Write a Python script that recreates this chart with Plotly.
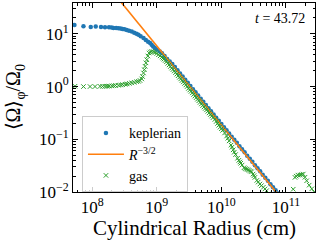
import plotly.graph_objects as go

# ---- data (log10 values) ----
kep_logR = [7.724, 7.864, 7.977, 8.054, 8.136, 8.198, 8.260, 8.300, 8.329, 8.370,
            8.406, 8.440, 8.468, 8.500, 8.535, 8.570, 8.612, 8.650, 8.685, 8.716,
            8.750, 8.794, 8.830, 8.865, 8.896, 8.920, 8.943, 8.970, 9.000, 9.047,
            9.080, 9.120, 9.160, 9.200, 9.240, 9.280, 9.320, 9.360, 9.400, 9.440,
            9.480, 9.520, 9.560, 9.600, 9.640, 9.680, 9.720, 9.760, 9.800, 9.840,
            9.880, 9.920, 9.960, 10.00, 10.04, 10.08, 10.12, 10.16, 10.20, 10.24,
            10.28, 10.32, 10.36, 10.40, 10.44, 10.48, 10.52, 10.56, 10.60, 10.64,
            10.68, 10.72, 10.76, 10.80, 10.84, 10.88]
kep_logW = [1.170, 1.145, 1.132, 1.138, 1.132, 1.126, 1.126, 1.122, 1.113, 1.112,
            1.108, 1.100, 1.094, 1.085, 1.075, 1.060, 1.043, 1.022, 1.000, 0.981,
            0.955, 0.919, 0.885, 0.850, 0.825, 0.795, 0.760, 0.730, 0.700, 0.666,
            0.630, 0.580, 0.525, 0.475, 0.430, 0.372, 0.308, 0.250, 0.192, 0.128,
            0.070, 0.012, -0.052, -0.110, -0.168, -0.232, -0.290, -0.348, -0.412, -0.470,
            -0.528, -0.592, -0.650, -0.708, -0.772, -0.830, -0.888, -0.952, -1.010, -1.068,
            -1.132, -1.190, -1.248, -1.312, -1.370, -1.428, -1.492, -1.550, -1.608, -1.672,
            -1.730, -1.788, -1.852, -1.910, -1.968, -2.030]

fit_logR = [7.70, 11.45]
fit_logW = [2.72, -2.905]

gas_logR = [7.733, 7.864, 7.966, 8.043, 8.121, 8.160, 8.198, 8.230, 8.260, 8.302,
            8.330, 8.360, 8.406, 8.440, 8.470, 8.509, 8.540, 8.575, 8.612, 8.650,
            8.690, 8.716, 8.740, 8.767, 8.780, 8.794, 8.807, 8.819, 8.832, 8.845,
            8.862, 8.881, 8.900, 8.922, 8.950, 8.974, 9.000, 9.026, 9.052, 9.078,
            9.095, 9.110, 9.130, 9.150, 9.170, 9.190, 9.210, 9.230, 9.250, 9.270,
            9.290, 9.310, 9.330, 9.350, 9.370, 9.390, 9.410, 9.430, 9.450, 9.470,
            9.490, 9.510, 9.530, 9.550, 9.570, 9.590, 9.610, 9.630, 9.650, 9.670,
            9.690, 9.710, 9.730, 9.750, 9.770, 9.790, 9.810, 9.830, 9.850, 9.870,
            9.900, 9.920, 9.940, 9.960, 9.980, 10.00, 10.02, 10.05, 10.081, 10.10,
            10.12, 10.15, 10.165, 10.183, 10.20, 10.22, 10.25, 10.27, 10.287, 10.30,
            10.32, 10.35, 10.37, 10.391, 10.41, 10.43, 10.45, 10.468, 10.49, 10.505,
            10.519, 10.55, 10.57, 10.597, 10.62, 10.65, 10.675, 10.701, 10.74,
            11.113, 11.140, 11.160, 11.186, 11.217, 11.240, 11.268, 11.295, 11.321, 11.360,
            11.400, 11.440]
gas_logW = [0.006, 0.000, 0.000, 0.000, 0.004, 0.004, 0.005, 0.007, 0.009, 0.013,
            0.016, 0.020, 0.025, 0.030, 0.037, 0.043, 0.050, 0.060, 0.070, 0.080,
            0.092, 0.100, 0.115, 0.145, 0.190, 0.258, 0.320, 0.383, 0.450, 0.509,
            0.580, 0.636, 0.655, 0.666, 0.660, 0.647, 0.628, 0.604, 0.582, 0.560,
            0.540, 0.520, 0.495, 0.470, 0.440, 0.410, 0.380, 0.350, 0.322, 0.295,
            0.265, 0.235, 0.205, 0.175, 0.145, 0.115, 0.088, 0.060, 0.030, 0.000,
            -0.035, -0.065, -0.092, -0.120, -0.150, -0.180, -0.210, -0.240, -0.270, -0.300,
            -0.330, -0.360, -0.388, -0.415, -0.442, -0.470, -0.500, -0.530, -0.560, -0.590,
            -0.623, -0.662, -0.700, -0.735, -0.770, -0.800, -0.830, -0.880, -0.938, -0.980,
            -1.030, -1.110, -1.150, -1.200, -1.245, -1.290, -1.360, -1.400, -1.430, -1.455,
            -1.490, -1.540, -1.555, -1.566, -1.578, -1.590, -1.605, -1.617, -1.660, -1.690,
            -1.723, -1.780, -1.812, -1.849, -1.880, -1.910, -1.942, -1.975, -2.030,
            -1.947, -1.723, -1.700, -1.680, -1.680, -1.670, -1.660, -1.720, -1.787, -1.870,
            -1.940, -2.000]

x_tick_vals = [1e8, 1e9, 1e10, 1e11]
x_tick_text = ["10<sup>8</sup>", "10<sup>9</sup>", "10<sup>10</sup>", "10<sup>11</sup>"]
y_tick_vals = [1e-2, 1e-1, 1e0, 1e1]
y_tick_text = ["10<sup>\u22122</sup>", "10<sup>\u22121</sup>", "10<sup>0</sup>", "10<sup>1</sup>"]

time_label = "<i>t</i> = 43.72"

FONT = "Liberation Serif"

def p10(a):
    return [10 ** v for v in a]

fig = go.Figure()
fig.add_trace(go.Scatter(
    x=p10(kep_logR), y=p10(kep_logW), mode="markers", name="keplerian",
    marker=dict(symbol="circle", size=4.5, color="#1f77b4", line=dict(width=0)),
))
fig.add_trace(go.Scatter(
    x=p10(fit_logR), y=p10(fit_logW), mode="lines", name="<i>R</i><sup>\u22123/2</sup>",
    line=dict(color="#ff7f0e", width=1.6),
))
fig.add_trace(go.Scatter(
    x=p10(gas_logR), y=p10(gas_logW), mode="markers", name="gas",
    marker=dict(symbol="x-thin", size=4.5, color="#2ca02c",
                line=dict(width=1, color="#2ca02c")),
))

axis_common = dict(
    type="log", showgrid=False, zeroline=False,
    showline=True, linecolor="black", linewidth=1, mirror="allticks",
    ticks="inside", ticklen=5, tickwidth=1, tickcolor="black",
    tickfont=dict(family=FONT, size=17, color="black"),
    minor=dict(ticks="inside", ticklen=2.5, tickwidth=0.8, tickcolor="black",
               dtick="D1", showgrid=False),
)

fig.update_xaxes(range=[7.702, 11.45], tickmode="array",
                 tickvals=x_tick_vals, ticktext=x_tick_text, **axis_common)
fig.update_yaxes(range=[-2, 1.585], tickmode="array",
                 tickvals=y_tick_vals, ticktext=y_tick_text, **axis_common)

fig.update_layout(
    width=320, height=240,
    margin=dict(l=73, r=5, t=3, b=48),
    paper_bgcolor="white", plot_bgcolor="white",
    font=dict(family=FONT, color="black"),
    showlegend=True,
    legend=dict(x=0.037, y=0.40, xanchor="left", yanchor="top",
                bgcolor="rgba(255,255,255,0.8)", bordercolor="#cccccc", borderwidth=1,
                font=dict(family=FONT, size=14, color="black"),
                itemwidth=36, tracegroupgap=0),
    annotations=[
        dict(text=time_label, x=0.965, y=0.92, xref="paper", yref="paper",
             xanchor="right", yanchor="middle", showarrow=False,
             font=dict(family=FONT, size=14, color="black")),
        dict(text="Cylindrical Radius (cm)", x=0.5, y=-0.19, xref="paper", yref="paper",
             xanchor="center", yanchor="middle", showarrow=False,
             font=dict(family=FONT, size=21, color="black")),
        dict(text="\u27e8\u03a9\u27e9<sub>\u03c6</sub>/\u03a9<sub>0</sub>", x=-0.24, y=0.5,
             xref="paper", yref="paper", xanchor="center", yanchor="middle",
             textangle=-90, showarrow=False,
             font=dict(family=FONT, size=20, color="black")),
    ],
)

fig.write_html("out.html", config={"displayModeBar": False},
               post_script="document.body.style.margin='0';document.body.style.padding='0';")
